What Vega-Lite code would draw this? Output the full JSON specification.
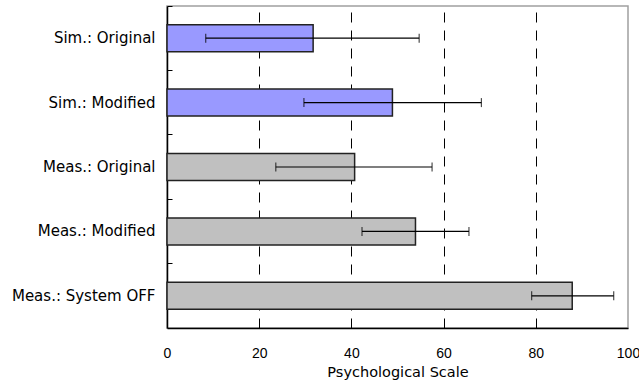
{
  "$schema": "https://vega.github.io/schema/vega-lite/v6.json",
  "width": 461,
  "height": 322,
  "autosize": {"type": "none"},
  "padding": {"left": 167, "top": 6, "right": 11, "bottom": 57},
  "config": {
    "view": {"stroke": "#a0a0a0", "strokeWidth": 1.5},
    "font": "DejaVu Sans"
  },
  "data": {
    "values": [
      {"label": "Sim.: Original", "type": "Sim", "mean": 31.7, "lower": 8.4, "upper": 54.7},
      {"label": "Sim.: Modified", "type": "Sim", "mean": 48.9, "lower": 29.7, "upper": 68.2},
      {"label": "Meas.: Original", "type": "Meas", "mean": 40.7, "lower": 23.6, "upper": 57.5},
      {"label": "Meas.: Modified", "type": "Meas", "mean": 53.9, "lower": 42.3, "upper": 65.5},
      {"label": "Meas.: System OFF", "type": "Meas", "mean": 87.9, "lower": 79.1, "upper": 96.9}
    ]
  },
  "encoding": {
    "y": {
      "field": "label",
      "type": "nominal",
      "sort": null,
      "scale": {"paddingInner": 0, "paddingOuter": 0},
      "axis": {
        "title": null,
        "bandPosition": 0,
        "tickSize": -5,
        "tickColor": "black",
        "domainColor": "black",
        "domainWidth": 1.5,
        "labelFontSize": 15,
        "labelColor": "black",
        "labelPadding": 17,
        "labelFont": "DejaVu Sans"
      }
    }
  },
  "layer": [
    {
      "mark": {"type": "bar", "height": {"band": 0.42}, "stroke": "#222", "strokeWidth": 1.5},
      "encoding": {
        "x": {
          "field": "mean",
          "type": "quantitative",
          "scale": {"domain": [0, 100], "nice": false},
          "axis": {
            "title": "Psychological Scale",
            "titleFont": "DejaVu Sans",
            "titleFontSize": 14.5,
            "titleFontWeight": "normal",
            "titleColor": "black",
            "titlePadding": 5,
            "values": [0, 20, 40, 60, 80, 100],
            "ticks": false,
            "labelFlush": false,
            "labelFont": "Liberation Sans",
            "labelPadding": 18,
            "labelFontSize": 14,
            "labelColor": "black",
            "domainColor": "black",
            "domainWidth": 1.5,
            "grid": true,
            "gridColor": "black",
            "gridDash": [10, 8],
            "gridWidth": 1,
            "gridOpacity": {"condition": {"test": "datum.value === 0 || datum.value === 100", "value": 0}, "value": 1}
          }
        },
        "color": {
          "field": "type",
          "type": "nominal",
          "scale": {"domain": ["Sim", "Meas"], "range": ["#9999ff", "#c0c0c0"]},
          "legend": null
        }
      }
    },
    {
      "mark": {"type": "rule", "color": "black", "strokeWidth": 1.2},
      "encoding": {
        "x": {"field": "lower", "type": "quantitative"},
        "x2": {"field": "upper"}
      }
    },
    {
      "mark": {"type": "tick", "color": "black", "size": 9, "thickness": 1.2},
      "encoding": {"x": {"field": "lower", "type": "quantitative"}}
    },
    {
      "mark": {"type": "tick", "color": "black", "size": 9, "thickness": 1.2},
      "encoding": {"x": {"field": "upper", "type": "quantitative"}}
    }
  ]
}
